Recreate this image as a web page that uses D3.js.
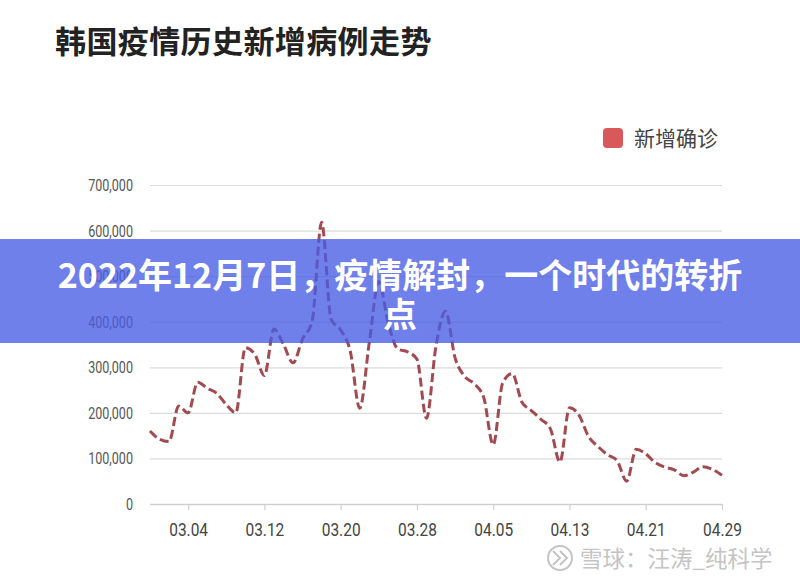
<!DOCTYPE html>
<html>
<head>
<meta charset="utf-8">
<script src="https://cdn.jsdelivr.net/npm/d3@7"></script>
<style>
  html, body { margin: 0; padding: 0; background: #fff; }
  svg { display: block; }
</style>
</head>
<body>
<script>
const title = "韩国疫情历史新增病例走势";
const legendLabel = "新增确诊";
const bannerLine1 = "2022年12月7日，疫情解封，一个时代的转折";
const bannerLine2 = "点";
const watermark = "雪球：汪涛_纯科学";

const dates = [
  "02.28","03.01","03.02","03.03","03.04","03.05","03.06","03.07","03.08","03.09",
  "03.10","03.11","03.12","03.13","03.14","03.15","03.16","03.17","03.18","03.19",
  "03.20","03.21","03.22","03.23","03.24","03.25","03.26","03.27","03.28","03.29",
  "03.30","03.31","04.01","04.02","04.03","04.04","04.05","04.06","04.07","04.08",
  "04.09","04.10","04.11","04.12","04.13","04.14","04.15","04.16","04.17","04.18",
  "04.19","04.20","04.21","04.22","04.23","04.24","04.25","04.26","04.27","04.28",
  "04.29"
];
const newCases = [
  160000,142000,137000,215000,200000,267000,254000,243000,218000,200000,
  343000,328000,282000,384000,350000,310000,362000,400000,618000,405000,
  382000,336000,210000,354000,488000,396000,340000,334000,318000,188000,
  347000,423000,321000,280000,264000,234000,130000,266000,286000,224000,
  205000,186000,165000,92000,211000,195000,148000,126000,108000,95000,
  50000,120000,110000,91000,81000,75000,62000,70000,82000,76000,
  63000
];
const xTickLabels = ["03.04","03.12","03.20","03.28","04.05","04.13","04.21","04.29"];
const yTickValues = [0,100000,200000,300000,400000,500000,600000,700000];

const W = 800, H = 584;
const svg = d3.select("body").append("svg").attr("width", W).attr("height", H);

const x = d3.scalePoint().domain(dates).range([150, 722]);
const y = d3.scaleLinear().domain([0, 700000]).range([504, 185]);

// title
svg.append("text")
  .attr("x", 55).attr("y", 53)
  .attr("font-family", "'Noto Sans CJK SC', sans-serif")
  .attr("font-weight", 700)
  .attr("font-size", 31)
  .attr("letter-spacing", 0.4)
  .attr("fill", "#222")
  .text(title);

// legend
svg.append("rect")
  .attr("x", 603).attr("y", 128).attr("width", 20).attr("height", 20)
  .attr("rx", 4).attr("fill", "#d9595b");
svg.append("text")
  .attr("x", 634).attr("y", 146)
  .attr("font-family", "'Noto Sans CJK SC', sans-serif")
  .attr("font-size", 21)
  .attr("fill", "#444")
  .text(legendLabel);

// gridlines
const gridG = svg.append("g")
  .attr("transform", "translate(150,0)")
  .call(d3.axisLeft(y).tickValues(yTickValues.filter(v => v > 0)).tickSize(-572).tickFormat(""));
gridG.select(".domain").remove();
gridG.selectAll(".tick line").attr("stroke", "#dcdcdc").attr("stroke-width", 1.2);

// y labels (condensed look)
const yLab = svg.append("g")
  .call(d3.axisLeft(y).tickValues(yTickValues).tickSize(0).tickPadding(0).tickFormat(d3.format(",")));
yLab.select(".domain").remove();
yLab.selectAll(".tick").each(function() {
  const t = d3.select(this).attr("transform");
  d3.select(this).attr("transform", t + " translate(133,0) scale(0.74,1)");
});
yLab.selectAll("text")
  .attr("x", 0)
  .attr("font-family", "Roboto, 'Noto Sans', sans-serif")
  .attr("font-size", 17)
  .attr("fill", "#555");

// x axis
const xAxis = svg.append("g")
  .attr("transform", "translate(0,504)")
  .call(d3.axisBottom(x).tickValues(xTickLabels).tickSize(6).tickPadding(13));
xAxis.select(".domain").attr("stroke", "#cfcfcf").attr("stroke-width", 1.5)
  .attr("d", "M150,0.5H722");
xAxis.selectAll(".tick line").attr("stroke", "#cfcfcf").attr("stroke-width", 1.2);
xAxis.selectAll("text")
  .attr("transform", "scale(0.86,1)")
  .attr("font-family", "Roboto, 'Noto Sans', sans-serif")
  .attr("font-size", 18)
  .attr("fill", "#444");

// line
const line = d3.line()
  .x((d, i) => x(dates[i]))
  .y(d => y(d))
  .curve(d3.curveMonotoneX);
svg.append("path")
  .datum(newCases)
  .attr("d", line)
  .attr("fill", "none")
  .attr("stroke", "#a34a50")
  .attr("stroke-width", 3)
  .attr("stroke-dasharray", "9,4")
  .attr("stroke-linejoin", "round");

// banner
svg.append("rect")
  .attr("x", 0).attr("y", 239).attr("width", W).attr("height", 104)
  .attr("fill", "rgb(72,92,228)").attr("opacity", 0.78);
const bannerText = svg.append("text")
  .attr("text-anchor", "middle")
  .attr("font-family", "'Noto Sans CJK SC', sans-serif")
  .attr("font-weight", 700)
  .attr("font-size", 34)
  .attr("fill", "#fff");
bannerText.append("tspan").attr("x", 400).attr("y", 288).text(bannerLine1);
bannerText.append("tspan").attr("x", 400).attr("y", 327).text(bannerLine2);

// watermark
const wm = svg.append("g").attr("fill", "none").attr("stroke", "#c4c4c4").attr("stroke-width", 2);
wm.append("circle").attr("cx", 560).attr("cy", 558).attr("r", 12);
wm.append("path").attr("d", "M553,551 L560,558 L553,565 M560,551 L567,558 L560,565");
svg.append("text")
  .attr("x", 580).attr("y", 567)
  .attr("font-family", "'Noto Sans CJK SC', sans-serif")
  .attr("font-size", 22.5)
  .attr("fill", "#c4c4c4")
  .text(watermark);
</script>
</body>
</html>
